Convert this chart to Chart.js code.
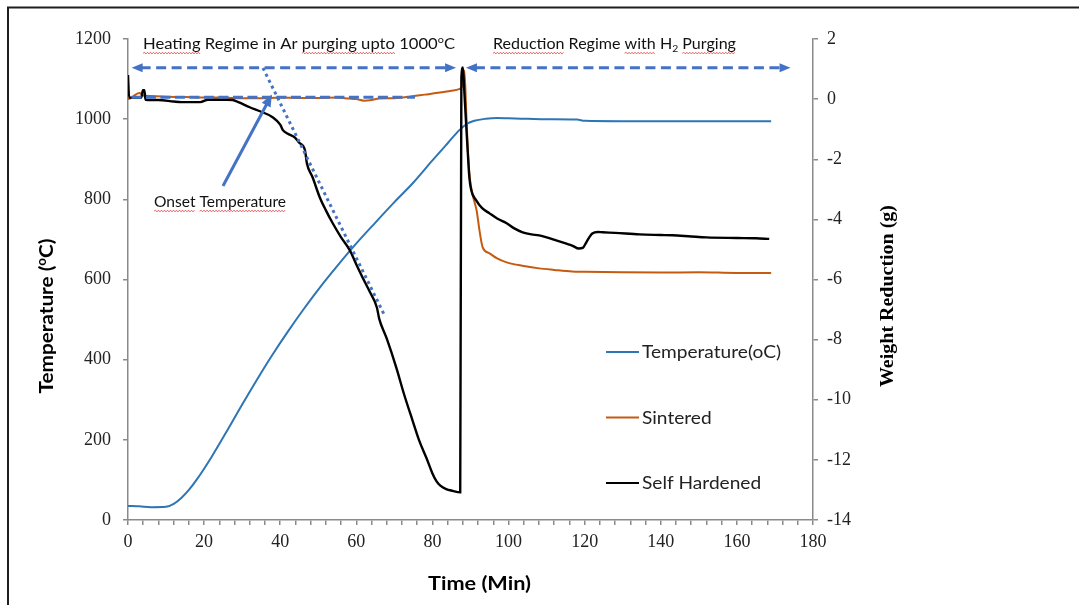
<!DOCTYPE html>
<html>
<head>
<meta charset="utf-8">
<script src="https://cdn.jsdelivr.net/npm/chart.js@4.4.1/dist/chart.umd.min.js"></script>
<style>
html,body{margin:0;padding:0;background:#fff;}
#wrap{width:1079px;height:605px;position:relative;}
canvas{display:block;}
</style>
</head>
<body>
<div id="wrap"><canvas id="c" width="1079" height="605"></canvas></div>
<script>
// ---------- tick labels ----------
const xTickLabels = [0, 20, 40, 60, 80, 100, 120, 140, 160, 180];
const tempTickLabels = [0, 200, 400, 600, 800, 1000, 1200];
const weightTickLabels = [-14, -12, -10, -8, -6, -4, -2, 0, 2];

// ---------- series ----------
const seriesNames = ['Temperature(oC)', 'Sintered', 'Self Hardened'];

const tempTime = [0,3,6,10,12,14,16,18,22,26,30,34,38,42,46,50,55,60,65,70,75,80,84,87,89,91,94,97,100,105,110,118,120,130,140,150,160,169];
const tempValues = [35,34,32,33,40,55,75,100,158,222,288,352,413,470,524,575,634,690,742,793,842,897,940,972,988,996,1001,1003,1002,1001,1000,999,996,995,995,995,995,995];

const sinteredTime = [0,1,2,3,4,6,10,15,20,25,30,35,40,45,50,55,58,60,62,64,66,70,74,78,82,85,87,88,88.4,88.9,89.3,89.8,90.6,91.6,92.4,93.2,95,97,99.5,104,108,112,116.7,120,130,140,150,160,169];
const sinteredValues = [0,0.05,0.15,0.2,0.12,0.1,0.08,0.07,0.05,0.05,0.03,0.03,0.05,0.04,0.04,0.05,0.02,0,-0.05,-0.03,0.02,0.03,0.08,0.15,0.22,0.28,0.33,0.5,0.95,-0.5,-1.7,-2.6,-3.2,-3.7,-4.4,-4.93,-5.13,-5.3,-5.43,-5.55,-5.63,-5.68,-5.73,-5.74,-5.76,-5.77,-5.76,-5.78,-5.78];

const hardenedTime = [0,0.3,3.5,3.9,4.3,4.6,8,12,14,19,21,26,27.5,29,32,35,38,40,40.7,42,43.8,45,46.5,47,48.5,50.4,52,53.8,56,58.3,60,61.7,63.5,65.4,66,68,70.5,72.5,74.8,76.5,78.4,80,81,82,83.6,85.3,87.3,87.6,88,88.4,88.9,89.3,89.7,90.2,91.5,93,95,97,99.5,101.5,103.7,106,108,110,112.5,115,116.7,118.5,119.5,120.4,121.2,122,123.5,124.7,128,134.4,140,143,148,152,160,165,168.5];
const hardenedValues = [0.8,0.05,0.05,0.3,0.3,-0.02,-0.03,-0.08,-0.1,-0.1,-0.02,-0.02,-0.03,-0.1,-0.27,-0.42,-0.6,-0.85,-1.03,-1.15,-1.27,-1.45,-1.7,-2.13,-2.6,-3.27,-3.7,-4.13,-4.6,-5.03,-5.5,-5.95,-6.4,-6.93,-7.3,-7.97,-8.93,-9.8,-10.7,-11.35,-11.93,-12.45,-12.7,-12.85,-12.97,-13.03,-13.08,0.7,1.05,0.2,-0.93,-1.8,-2.6,-3.03,-3.37,-3.62,-3.8,-3.97,-4.13,-4.3,-4.43,-4.5,-4.53,-4.6,-4.7,-4.8,-4.87,-4.97,-4.95,-4.77,-4.6,-4.47,-4.42,-4.43,-4.45,-4.5,-4.52,-4.53,-4.57,-4.6,-4.62,-4.63,-4.65];

// ---------- annotation geometry (data units: time, weight axis) ----------
const regimeArrowStart = [[0.95, 1.045], [88.8, 1.045]];
const regimeArrowEnd = [[86.2, 1.045], [174.1, 1.045]];
const baselineStart = [0.9, 0.06];
const baselineEnd = [75.4, 0.06];
const tangentStart = [35.47, 1.035];
const tangentEnd = [67.5, -7.215];
const onsetArrowTail = [24.96, -2.89];
const onsetArrowHead = [37.8, 0.15];
const heatingTextAt = [3.94, 1.667];
const reductionTextAt = [95.9, 1.667];
const onsetTextAt = [6.83, -3.59];

// ---------- styles ----------
const BLUE = '#2E75B6';
const ORANGE = '#C55A11';
const BLACK = '#000000';
const ANN = '#4472C4';
const AXIS = '#8a8a8a';
const TICKFONT = '"Liberation Serif","Times New Roman",serif';
const SANS = 'Lato, "Open Sans", sans-serif';

function pts(t, v){ return t.map((x,i)=>({x:x, y:v[i]})); }

function richMeasure(ctx, parts, size, family, weight){
  let w = 0;
  for (const p of parts){
    const s = (p.sup||p.sub) ? size*0.65 : size;
    ctx.font = `${weight} ${s}px ${family}`;
    p._w = ctx.measureText(p.t).width;
    w += p._w;
  }
  return w;
}
function wavy(ctx, x1, x2, y){
  ctx.save();
  ctx.strokeStyle = 'rgba(225,45,45,0.8)';
  ctx.lineWidth = 0.9;
  ctx.beginPath();
  ctx.moveTo(x1, y);
  let up = true;
  for (let x = x1 + 1.5; x <= x2; x += 1.5){ ctx.lineTo(x, up ? y - 1.1 : y + 0.6); up = !up; }
  ctx.stroke();
  ctx.restore();
}
function drawRich(ctx, parts, x, y, opt){
  const size = opt.size, family = opt.family, weight = opt.weight || 'normal';
  const nat = richMeasure(ctx, parts, size, family, weight);
  const sx = opt.width ? opt.width / nat : 1;
  ctx.save();
  ctx.translate(x, y);
  if (opt.rotate) ctx.rotate(opt.rotate);
  ctx.scale(sx, 1);
  let cx = opt.align === 'center' ? -nat/2 : 0;
  ctx.fillStyle = opt.color || '#000';
  ctx.textAlign = 'left';
  ctx.textBaseline = opt.baseline || 'alphabetic';
  const spans = [];
  for (const p of parts){
    const s = (p.sup||p.sub) ? size*0.65 : size;
    ctx.font = `${weight} ${s}px ${family}`;
    const dy = p.sup ? -size*0.36 : (p.sub ? size*0.2 : 0);
    ctx.fillText(p.t, cx, dy);
    if (opt.underline){
      for (const word of opt.underline){
        const idx = p.t.indexOf(word);
        if (idx >= 0){
          const a = ctx.measureText(p.t.slice(0, idx)).width;
          const b = ctx.measureText(p.t.slice(0, idx + word.length)).width;
          spans.push([cx + a, cx + b]);
        }
      }
    }
    cx += p._w;
  }
  ctx.restore();
  for (const sp of spans){
    wavy(ctx, x + sp[0]*sx, x + sp[1]*sx, y + size*0.28);
  }
}
function head(ctx, x1, y1, x2, y2, len, wid){
  const a = Math.atan2(y2-y1, x2-x1);
  const c = Math.cos(a), s = Math.sin(a);
  ctx.beginPath();
  ctx.moveTo(x2, y2);
  ctx.lineTo(x2 - len*c + wid/2*s, y2 - len*s - wid/2*c);
  ctx.lineTo(x2 - len*c - wid/2*s, y2 - len*s + wid/2*c);
  ctx.closePath();
  ctx.fill();
}

const framePlugin = {
  id: 'frame',
  beforeDraw(chart){
    const ctx = chart.ctx;
    ctx.save();
    ctx.fillStyle = '#fff';
    ctx.fillRect(0, 0, chart.width, chart.height);
    ctx.strokeStyle = '#1e1e1e';
    ctx.lineWidth = 2;
    ctx.beginPath();
    ctx.moveTo(8, chart.height);
    ctx.lineTo(8, 7.5);
    ctx.lineTo(chart.width, 7.5);
    ctx.stroke();
    ctx.restore();
  }
};

const annotationPlugin = {
  id: 'annotations',
  afterDatasetsDraw(chart){
    const ctx = chart.ctx;
    const X = v => chart.scales.x.getPixelForValue(v);
    const Y = v => chart.scales.y1.getPixelForValue(v);
    const ca = chart.chartArea;
    ctx.save();
    ctx.strokeStyle = ANN;
    ctx.fillStyle = ANN;

    for (let i = 0; i < regimeArrowStart.length; i++){
      const x1 = X(regimeArrowStart[i][0]), y1 = Y(regimeArrowStart[i][1]);
      const x2 = X(regimeArrowEnd[i][0]), y2 = Y(regimeArrowEnd[i][1]);
      ctx.lineWidth = 3;
      ctx.setLineDash([10, 5.5]);
      ctx.lineCap = 'butt';
      ctx.beginPath();
      ctx.moveTo(x1 + 9, y1);
      ctx.lineTo(x2 - 9, y2);
      ctx.stroke();
      ctx.setLineDash([]);
      head(ctx, x2, y2, x1, y1, 11, 9);
      head(ctx, x1, y1, x2, y2, 11, 9);
    }
    ctx.lineWidth = 3;
    ctx.setLineDash([10, 4.5]);
    ctx.beginPath();
    ctx.moveTo(X(baselineStart[0]), Y(baselineStart[1]));
    ctx.lineTo(X(baselineEnd[0]), Y(baselineEnd[1]));
    ctx.stroke();
    ctx.lineWidth = 3;
    ctx.setLineDash([3, 3.6]);
    ctx.beginPath();
    ctx.moveTo(X(tangentStart[0]), Y(tangentStart[1]));
    ctx.lineTo(X(tangentEnd[0]), Y(tangentEnd[1]));
    ctx.stroke();
    ctx.setLineDash([]);
    {
      const x1 = X(onsetArrowTail[0]), y1 = Y(onsetArrowTail[1]);
      const x2 = X(onsetArrowHead[0]), y2 = Y(onsetArrowHead[1]);
      const a = Math.atan2(y2-y1, x2-x1);
      ctx.lineWidth = 3;
      ctx.beginPath();
      ctx.moveTo(x1, y1);
      ctx.lineTo(x2 - 9*Math.cos(a), y2 - 9*Math.sin(a));
      ctx.stroke();
      head(ctx, x1, y1, x2, y2, 12, 10);
    }
    ctx.restore();

    drawRich(ctx, [{t:'Heating Regime in Ar purging upto 1000'},{t:'o',sup:true},{t:'C'}],
      X(heatingTextAt[0]), Y(heatingTextAt[1]),
      {size:15.5, family:SANS, color:'#111', width:312, underline:['Heating','purging upto']});
    drawRich(ctx, [{t:'Reduction Regime with H'},{t:'2',sub:true},{t:' Purging'}],
      X(reductionTextAt[0]), Y(reductionTextAt[1]),
      {size:15.5, family:SANS, color:'#111', width:243, underline:['Reduction','with','Purging']});
    drawRich(ctx, [{t:'Onset Temperature'}],
      X(onsetTextAt[0]), Y(onsetTextAt[1]),
      {size:15, family:SANS, color:'#111', width:132, underline:['Onset','Temperature']});

    const ds = chart.data.datasets;
    const lx = ca.left + 478, ly0 = ca.top + 313, step = 65.5;
    ctx.save();
    ctx.font = `normal 17px ${SANS}`;
    const sx = 139 / ctx.measureText(ds[0].label).width;
    for (let i = 0; i < ds.length; i++){
      const y = ly0 + i*step;
      ctx.strokeStyle = ds[i].borderColor;
      ctx.lineWidth = 2;
      ctx.beginPath();
      ctx.moveTo(lx, y);
      ctx.lineTo(lx + 33, y);
      ctx.stroke();
      ctx.save();
      ctx.translate(lx + 36, y);
      ctx.scale(sx, 1);
      ctx.fillStyle = '#222';
      ctx.textBaseline = 'middle';
      ctx.textAlign = 'left';
      ctx.fillText(ds[i].label, 0, 1);
      ctx.restore();
    }
    ctx.restore();

    drawRich(ctx, [{t:'Time (Min)'}], (ca.left+ca.right)/2 + 9, 590,
      {size:19.5, family:SANS, weight:'bold', color:'#000', width:103, align:'center'});
    drawRich(ctx, [{t:'Temperature ('},{t:'o',sup:true},{t:'C)'}], 53, 316,
      {size:19.5, family:SANS, weight:'bold', color:'#000', width:155, align:'center', rotate:-Math.PI/2});
    drawRich(ctx, [{t:'Weight Reduction (g)'}], 893, 296,
      {size:18, family:TICKFONT, weight:'bold', color:'#000', width:182, align:'center', rotate:-Math.PI/2});
  }
};

const axisCommon = {
  border: {display:true, color:AXIS, width:1.5},
  grid: {display:true, drawOnChartArea:false, drawTicks:true, tickLength:5, color:AXIS, lineWidth:1.5},
};

new Chart(document.getElementById('c'), {
  type: 'line',
  data: {
    datasets: [
      {label: seriesNames[0], data: pts(tempTime, tempValues), yAxisID:'y', borderColor:BLUE, backgroundColor:BLUE, borderWidth:2, pointRadius:0, cubicInterpolationMode:'monotone', order:3},
      {label: seriesNames[1], data: pts(sinteredTime, sinteredValues), yAxisID:'y1', borderColor:ORANGE, backgroundColor:ORANGE, borderWidth:2, pointRadius:0, cubicInterpolationMode:'monotone', order:2},
      {label: seriesNames[2], data: pts(hardenedTime, hardenedValues), yAxisID:'y1', borderColor:BLACK, backgroundColor:BLACK, borderWidth:2.4, pointRadius:0, cubicInterpolationMode:'monotone', order:1}
    ]
  },
  options: {
    responsive:false,
    animation:false,
    layout:{padding:{top:39, left:0, right:0, bottom:0}},
    plugins:{legend:{display:false}, tooltip:{enabled:false}, title:{display:false}},
    scales:{
      x:{
        type:'linear', position:'bottom',
        min: xTickLabels[0], max: xTickLabels[xTickLabels.length-1],
        ...axisCommon,
        ticks:{stepSize:4, autoSkip:false, maxRotation:0, padding:6, color:'#222',
          font:{family:TICKFONT, size:18},
          callback:v => xTickLabels.includes(v) ? String(v) : ''},
        afterFit(s){ s.height = 85; }
      },
      y:{
        type:'linear', position:'left',
        min: tempTickLabels[0], max: tempTickLabels[tempTickLabels.length-1],
        ...axisCommon,
        ticks:{stepSize: tempTickLabels[1]-tempTickLabels[0], padding:12, color:'#222',
          font:{family:TICKFONT, size:18},
          callback:v => tempTickLabels.includes(v) ? String(v) : ''},
        afterFit(s){ s.width = 128; }
      },
      y1:{
        type:'linear', position:'right',
        min: weightTickLabels[0], max: weightTickLabels[weightTickLabels.length-1],
        ...axisCommon,
        ticks:{stepSize: weightTickLabels[1]-weightTickLabels[0], padding:9, color:'#222',
          font:{family:TICKFONT, size:18},
          callback:v => weightTickLabels.includes(v) ? String(v) : ''},
        afterFit(s){ s.width = 1079 - 813; }
      }
    }
  },
  plugins:[framePlugin, annotationPlugin]
});
</script>
</body>
</html>
